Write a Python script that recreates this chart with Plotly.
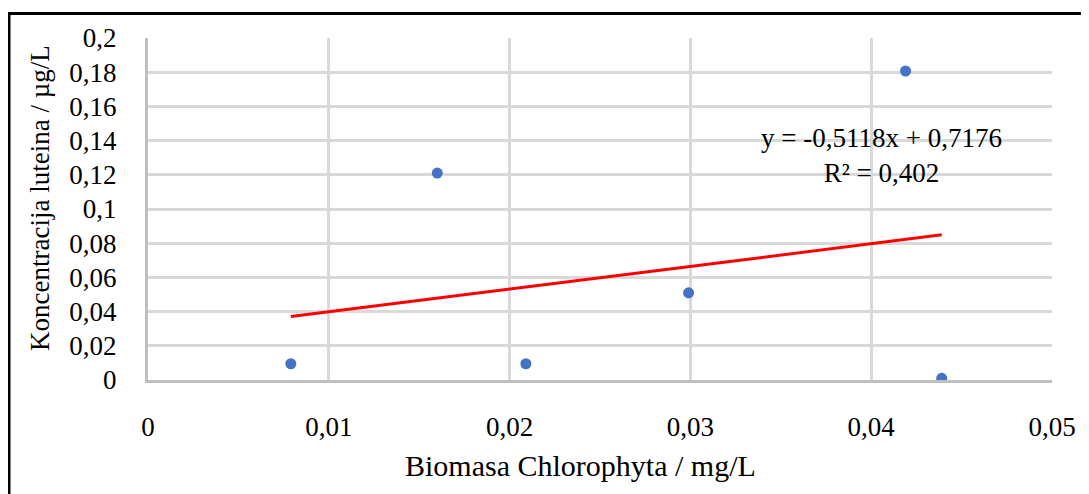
import numpy as np
import plotly.graph_objects as go

biomasa = [0.0079, 0.016, 0.0209, 0.0299, 0.0419, 0.0439]
luteina = [0.0095, 0.121, 0.0095, 0.051, 0.1807, 0.001]
x_ticks = [0, 0.01, 0.02, 0.03, 0.04, 0.05]
x_tick_labels = ["0", "0,01", "0,02", "0,03", "0,04", "0,05"]
y_ticks = [0, 0.02, 0.04, 0.06, 0.08, 0.1, 0.12, 0.14, 0.16, 0.18, 0.2]
y_tick_labels = ["0", "0,02", "0,04", "0,06", "0,08", "0,1", "0,12", "0,14", "0,16", "0,18", "0,2"]
equation_text = "y = -0,5118x + 0,7176<br>R² = 0,402"
x_title = "Biomasa Chlorophyta / mg/L"
y_title = "Koncentracija luteina / µg/L"

slope, intercept = np.polyfit(biomasa, luteina, 1)
trend_x = [min(biomasa), max(biomasa)]
trend_y = [slope * v + intercept for v in trend_x]

FONT = "Liberation Serif"

fig = go.Figure()
fig.add_trace(go.Scatter(
    x=trend_x, y=trend_y, mode="lines",
    line=dict(color="#FF0000", width=3), showlegend=False, hoverinfo="skip"))
fig.add_trace(go.Scatter(
    x=biomasa, y=luteina, mode="markers",
    marker=dict(color="#4472C4", size=11), showlegend=False))

OFF = 8  # page body margin
W, H = 1089 - OFF, 494 - OFF
ml = 148 - OFF
mt = 38 - OFF
mr = W - (1052 - OFF)
mb = H - (380 - OFF)
pw, ph = W - ml - mr, H - mt - mb

def px(x):
    return (x - OFF - ml) / pw

def py(y):
    return (H - mb - (y - OFF)) / ph

fig.update_layout(
    width=W, height=H,
    margin=dict(l=ml, r=mr, t=mt, b=mb, autoexpand=False),
    paper_bgcolor="white", plot_bgcolor="white",
    font=dict(family=FONT, color="black", size=27),
    xaxis=dict(range=[0, 0.05], tickvals=x_ticks, ticktext=x_tick_labels,
               showgrid=True, gridcolor="#D9D9D9", gridwidth=2.5,
               showline=True, linecolor="#BFBFBF", linewidth=3,
               zeroline=False, ticks="", ticklabelstandoff=21,
               tickfont=dict(family=FONT, size=27, color="black")),
    yaxis=dict(range=[0, 0.2], tickvals=y_ticks, ticktext=y_tick_labels,
               showgrid=True, gridcolor="#D9D9D9", gridwidth=2.5,
               showline=True, linecolor="#BFBFBF", linewidth=3,
               zeroline=False, ticks="", ticklabelstandoff=23,
               tickfont=dict(family=FONT, size=27, color="black")),
    shapes=[dict(type="rect", xref="paper", yref="paper",
                 x0=px(9), x1=px(1100), y0=py(510), y1=py(13.5),
                 line=dict(color="black", width=3), fillcolor="rgba(0,0,0,0)",
                 layer="above")],
    annotations=[
        dict(text=x_title, xref="paper", yref="paper", x=px(580), y=py(465),
             showarrow=False, font=dict(family=FONT, size=30, color="black"),
             xanchor="center", yanchor="middle"),
        dict(text=y_title, xref="paper", yref="paper", x=px(40), y=py(198),
             showarrow=False, textangle=-90,
             font=dict(family=FONT, size=27, color="black"),
             xanchor="center", yanchor="middle"),
        dict(text=equation_text, xref="paper", yref="paper", x=px(881), y=py(155),
             showarrow=False, align="center",
             font=dict(family=FONT, size=27, color="black"),
             xanchor="center", yanchor="middle"),
    ],
)

fig.write_html("out.html")
